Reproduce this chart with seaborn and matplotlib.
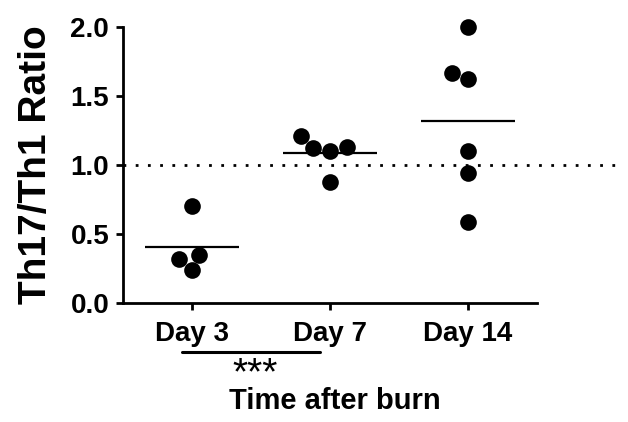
import matplotlib
matplotlib.use("Agg")
import matplotlib.pyplot as plt
import numpy as np
import pandas as pd
import seaborn as sns

# values
day3 = [0.70, 0.35, 0.24, 0.32]
day7 = [1.21, 1.13, 1.10, 1.12, 0.88]
day14 = [2.00, 1.62, 1.67, 1.10, 0.94, 0.59]
days = ["Day 3", "Day 7", "Day 14"]
yticks = [0.0, 0.5, 1.0, 1.5, 2.0]
ref_line = 1.0

df = pd.DataFrame(
    {
        "day": ["Day 3"] * len(day3) + ["Day 7"] * len(day7) + ["Day 14"] * len(day14),
        "ratio": day3 + day7 + day14,
    }
)

sns.set_style("ticks")
plt.rcParams["font.family"] = ["Liberation Sans", "DejaVu Sans"]
plt.rcParams["font.weight"] = "bold"
plt.rcParams["text.color"] = "black"
plt.rcParams["axes.labelcolor"] = "black"
plt.rcParams["xtick.color"] = "black"
plt.rcParams["ytick.color"] = "black"
plt.rcParams["axes.edgecolor"] = "black"

fig = plt.figure(figsize=(6.28, 4.22), dpi=100)
ax = fig.add_axes([0.196, 0.282, 0.659, 0.654])

sns.swarmplot(data=df, x="day", y="ratio", order=days, color="black", size=12,
              ax=ax, clip_on=False, zorder=3)

means = df.groupby("day")["ratio"].mean().reindex(days)
ax.hlines(means.values, np.arange(len(days)) - 0.34, np.arange(len(days)) + 0.34,
          color="black", lw=1.6, zorder=2)

# dotted reference line runs past the end of the x axis
ax.axhline(ref_line, xmin=0, xmax=1.2, color="black", lw=2.0,
           linestyle=(0, (1, 3.4)), zorder=1, clip_on=False)

ax.set_xlim(-0.5, 2.5)
ax.set_ylim(0, 2.0)
ax.set_yticks(yticks)
ax.set_yticklabels([f"{t:.1f}" for t in yticks])

for side in ["top", "right"]:
    ax.spines[side].set_visible(False)
for side in ["left", "bottom"]:
    ax.spines[side].set_linewidth(2.0)
ax.tick_params(axis="both", width=2.0, length=5, labelsize=20, pad=5)
ax.tick_params(axis="x", pad=8)

ax.set_xlabel("Time after burn", fontsize=21, fontweight="bold", labelpad=29, x=0.512)
ax.set_ylabel("Th17/Th1 Ratio", fontsize=28, fontweight="bold", labelpad=12)

# significance bracket between Day 3 and Day 7
ax.plot([-0.07, 0.93], [-0.355, -0.355], color="black", lw=2.2, clip_on=False)
ax.text(0.46, -0.385, "***", ha="center", va="top", fontsize=28, fontweight="normal")

fig.savefig("out.png", dpi=100)
